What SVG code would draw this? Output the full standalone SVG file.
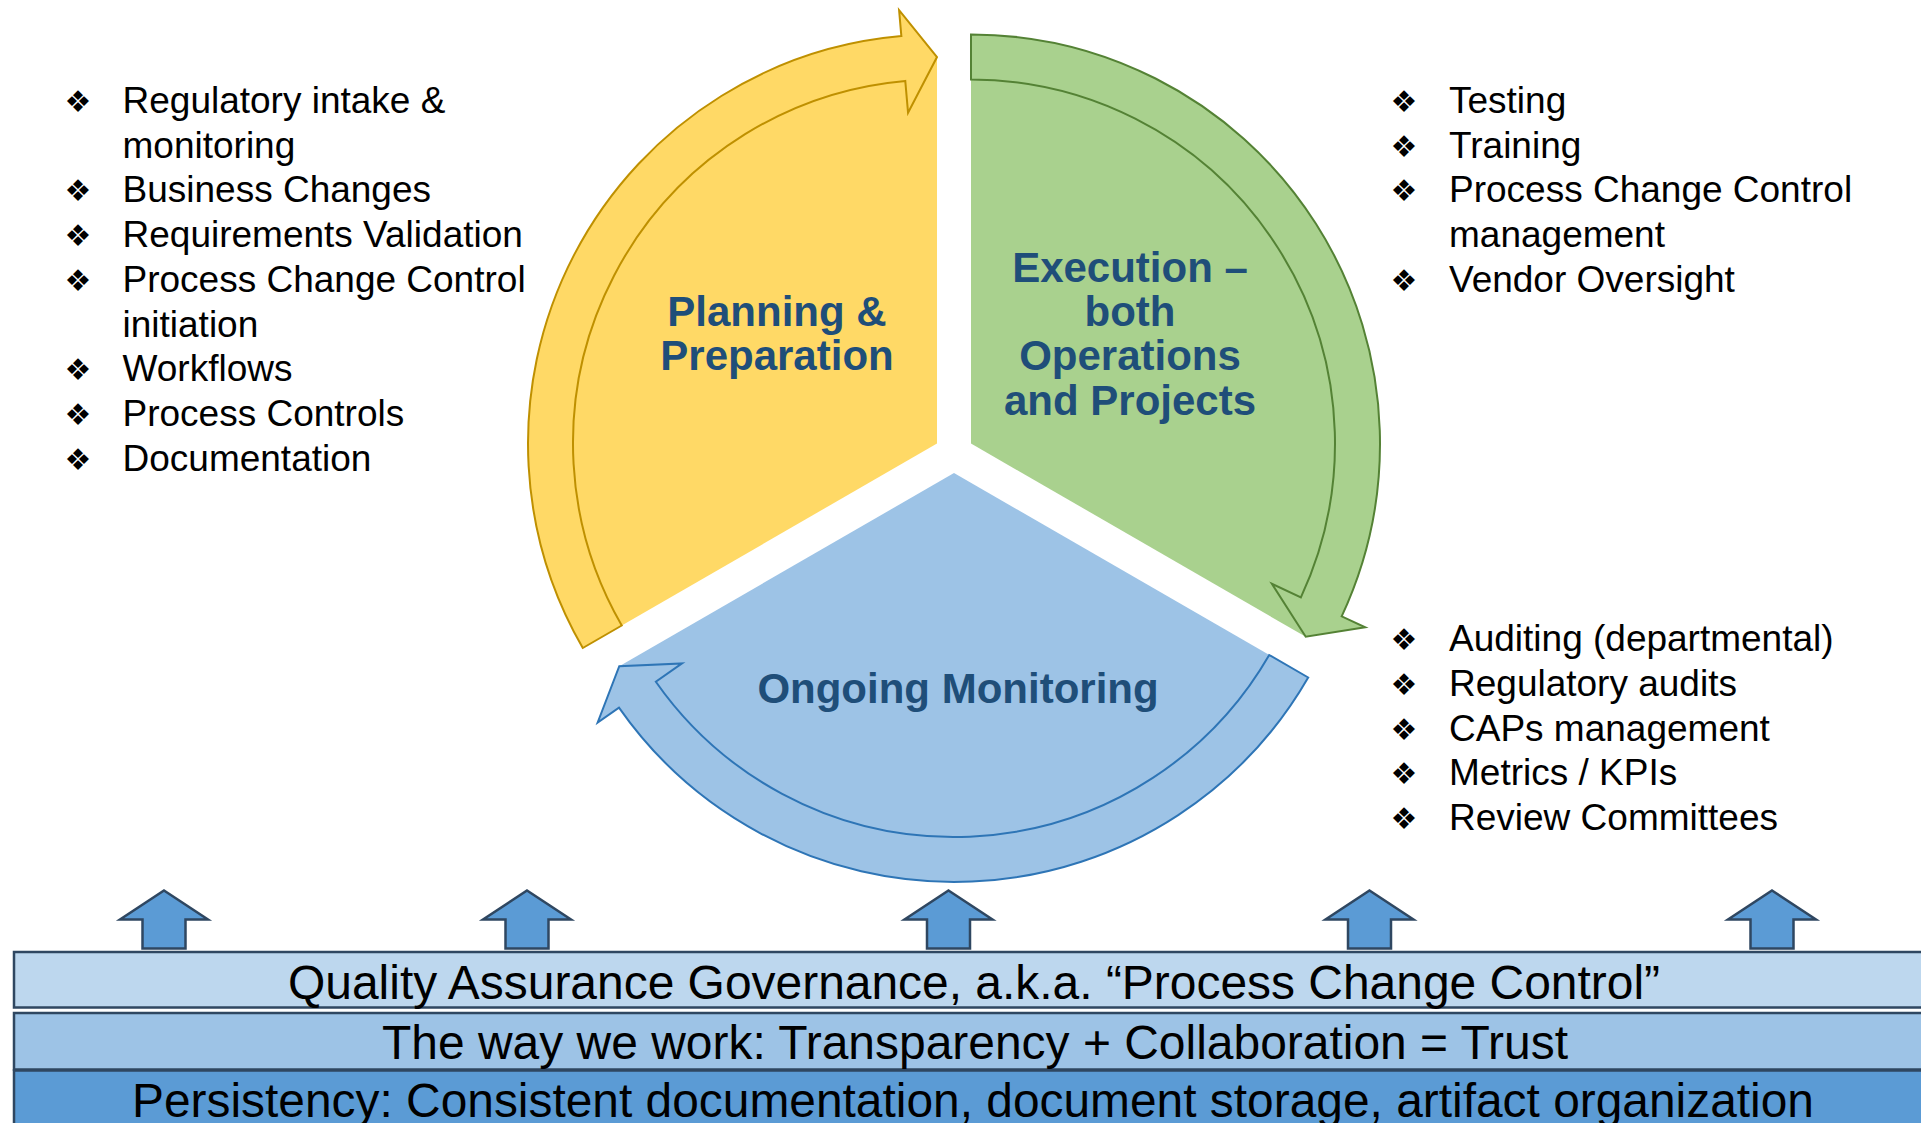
<svg xmlns="http://www.w3.org/2000/svg" width="1921" height="1123" viewBox="0 0 1921 1123">
  <style>
    .list { font-family: "Liberation Sans", Arial, sans-serif; font-size: 37px; fill: #000; }
    .bul { font-family: "DejaVu Sans", sans-serif; font-size: 30px; fill: #000; text-anchor: middle; }
    .title { font-family: "Liberation Sans", Arial, sans-serif; font-size: 42px; font-weight: bold; fill: #1F4E79; text-anchor: middle; }
    .band { stroke: #2F4761; stroke-width: 2.5; }
    .band-text { font-family: "Liberation Sans", Arial, sans-serif; font-size: 48px; fill: #000; text-anchor: middle; }
    .up { fill: #5B9BD5; stroke: #2F4761; stroke-width: 2.5; stroke-linejoin: miter; }
    .pie-y { fill: #FFD966; }
    .arc-y { fill: #FFD966; stroke: #BF9000; stroke-width: 2; stroke-linejoin: miter; }
    .pie-g { fill: #A9D18E; }
    .arc-g { fill: #A9D18E; stroke: #548235; stroke-width: 2; stroke-linejoin: miter; }
    .pie-b { fill: #9DC3E6; }
    .arc-b { fill: #9DC3E6; stroke: #2E75B6; stroke-width: 2; stroke-linejoin: miter; }
  </style>
  <defs>
    <!-- one 120-degree pie segment, apex at the origin, spanning 150..270 deg -->
    <path id="pie" d="M0 0 L-334.3 193 A386 386 0 0 1 0 -386 Z"/>
    <!-- curved block arrow hugging the segment, tail at 150 deg, head ending at 270 deg -->
    <path id="curl" d="M-354.2 204.5 A409 409 0 0 1 -35.65 -407.44 L-37.91 -433.34 L0 -386.5 L-28.94 -330.74 L-31.73 -362.61 A364 364 0 0 0 -315.23 182 Z"/>
    <polygon id="uparrow" points="0,0 44,29 21.5,29 21.5,58 -21.5,58 -21.5,29 -44,29"/>
  </defs>

  <!-- cycle segments -->
  <g id="planning">
    <use href="#pie" class="pie-y" transform="translate(937 443.5)"/>
    <use href="#curl" class="arc-y" transform="translate(937 443.5)"/>
    <text class="title" x="777" y="326">Planning &amp;</text>
    <text class="title" x="777" y="370">Preparation</text>
  </g>

  <g id="execution">
    <use href="#pie" class="pie-g" transform="translate(971 443.5) rotate(120)"/>
    <use href="#curl" class="arc-g" transform="translate(971 443.5) rotate(120)"/>
    <text class="title" x="1130" y="282">Execution –</text>
    <text class="title" x="1130" y="326">both</text>
    <text class="title" x="1130" y="370">Operations</text>
    <text class="title" x="1130" y="415">and Projects</text>
  </g>

  <g id="monitoring">
    <use href="#pie" class="pie-b" transform="translate(954 473) rotate(240)"/>
    <use href="#curl" class="arc-b" transform="translate(954 473) rotate(240)"/>
    <text class="title" x="958" y="703">Ongoing Monitoring</text>
  </g>

  <!-- activity lists -->
  <g id="planning-list">
    <text class="bul" x="78" y="112">❖</text>
    <text class="list" x="122.5" y="113">Regulatory intake &amp;</text>
    <text class="list" x="122.5" y="157.7">monitoring</text>
    <text class="bul" x="78" y="201.4">❖</text>
    <text class="list" x="122.5" y="202.4">Business Changes</text>
    <text class="bul" x="78" y="246.1">❖</text>
    <text class="list" x="122.5" y="247.1">Requirements Validation</text>
    <text class="bul" x="78" y="290.8">❖</text>
    <text class="list" x="122.5" y="291.8">Process Change Control</text>
    <text class="list" x="122.5" y="336.5">initiation</text>
    <text class="bul" x="78" y="380.2">❖</text>
    <text class="list" x="122.5" y="381.2">Workflows</text>
    <text class="bul" x="78" y="424.9">❖</text>
    <text class="list" x="122.5" y="425.9">Process Controls</text>
    <text class="bul" x="78" y="469.6">❖</text>
    <text class="list" x="122.5" y="470.6">Documentation</text>
  </g>

  <g id="execution-list">
    <text class="bul" x="1404" y="112">❖</text>
    <text class="list" x="1449" y="113">Testing</text>
    <text class="bul" x="1404" y="156.7">❖</text>
    <text class="list" x="1449" y="157.7">Training</text>
    <text class="bul" x="1404" y="201.4">❖</text>
    <text class="list" x="1449" y="202.4">Process Change Control</text>
    <text class="list" x="1449" y="247.1">management</text>
    <text class="bul" x="1404" y="290.8">❖</text>
    <text class="list" x="1449" y="291.8">Vendor Oversight</text>
  </g>

  <g id="monitoring-list">
    <text class="bul" x="1404" y="650.3">❖</text>
    <text class="list" x="1449" y="651.3">Auditing (departmental)</text>
    <text class="bul" x="1404" y="695">❖</text>
    <text class="list" x="1449" y="696">Regulatory audits</text>
    <text class="bul" x="1404" y="739.7">❖</text>
    <text class="list" x="1449" y="740.7">CAPs management</text>
    <text class="bul" x="1404" y="784.4">❖</text>
    <text class="list" x="1449" y="785.4">Metrics / KPIs</text>
    <text class="bul" x="1404" y="829.1">❖</text>
    <text class="list" x="1449" y="830.1">Review Committees</text>
  </g>

  <!-- support arrows rising from the foundation -->
  <g id="connectors">
    <use href="#uparrow" class="up" transform="translate(164 890.5)"/>
    <use href="#uparrow" class="up" transform="translate(527 890.5)"/>
    <use href="#uparrow" class="up" transform="translate(948.5 890.5)"/>
    <use href="#uparrow" class="up" transform="translate(1369.5 890.5)"/>
    <use href="#uparrow" class="up" transform="translate(1772 890.5)"/>
  </g>

  <!-- foundation layers -->
  <g id="governance">
    <rect class="band" x="14" y="952" width="1940" height="55.5" fill="#BDD7EE"/>
    <text class="band-text" x="974" y="999" textLength="1372" lengthAdjust="spacingAndGlyphs">Quality Assurance Governance, a.k.a. “Process Change Control”</text>
  </g>
  <g id="way-we-work">
    <rect class="band" x="14" y="1013" width="1940" height="56.5" fill="#9DC3E6"/>
    <text class="band-text" x="975" y="1059" textLength="1186" lengthAdjust="spacingAndGlyphs">The way we work: Transparency + Collaboration = Trust</text>
  </g>
  <g id="persistency">
    <rect class="band" x="14" y="1070.5" width="1940" height="70" fill="#5B9BD5"/>
    <text class="band-text" x="973" y="1117" textLength="1682" lengthAdjust="spacingAndGlyphs">Persistency: Consistent documentation, document storage, artifact organization</text>
  </g>
</svg>
